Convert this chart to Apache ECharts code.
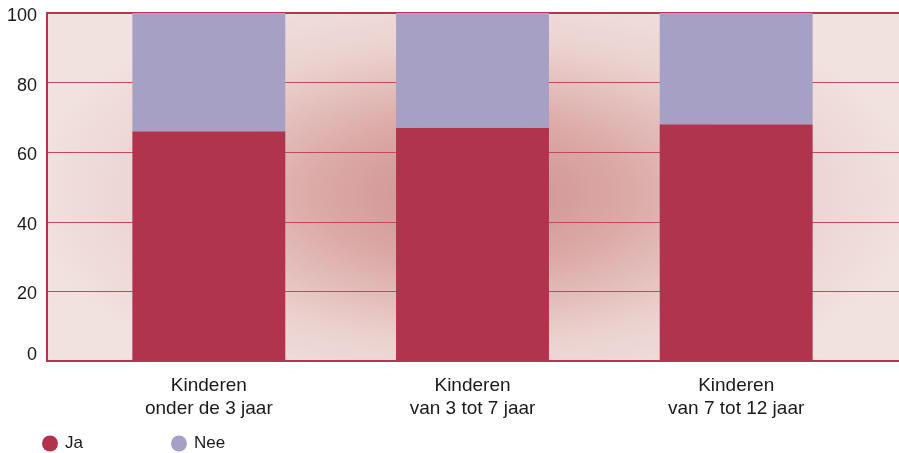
<!DOCTYPE html>
<html>
<head>
<meta charset="utf-8">
<script src="https://cdn.jsdelivr.net/npm/echarts@6/dist/echarts.min.js"></script>
<style>
    html, body { margin: 0; padding: 0; background: #fff; }
    #wrap { position: relative; width: 899px; height: 453px; }
    /* zachte roze achtergrond met donkere kern */
    #bg {
        position: absolute; left: 47px; top: 13px; width: 852px; height: 348px;
        background: radial-gradient(ellipse 52% 62% at 50% 52%, #cd8d8d 0%, #dba9a6 35%, #ebd2cf 70%, #f1e1df 100%);
    }
    #chart { position: absolute; left: 0; top: 0; width: 899px; height: 453px; }
</style>
</head>
<body>
<div id="wrap">
    <div id="bg"></div>
    <div id="chart"></div>
</div>
<script>
const categories = ['Kinderen\nonder de 3 jaar', 'Kinderen\nvan 3 tot 7 jaar', 'Kinderen\nvan 7 tot 12 jaar'];
const jaValues = [66, 67, 68];
const neeValues = [34, 33, 32];
const yTicks = [0, 20, 40, 60, 80, 100];

const RED = '#b0344d';
const LILAC = '#a5a0c4';
const LINE = '#b5344f';
const FONT = 'Liberation Sans';

const chart = echarts.init(document.getElementById('chart'));

chart.setOption({
    backgroundColor: 'transparent',
    animation: false,
    textStyle: { fontFamily: FONT },
    grid: [
        { left: 47, right: 0, top: 13, bottom: 92 },
        { left: 77, right: 31, top: 13, bottom: 92 }
    ],
    legend: {
        left: 37,
        top: 430,
        icon: 'circle',
        itemWidth: 16,
        itemHeight: 16,
        itemGap: 88,
        textStyle: { fontSize: 17, color: '#1a1a1a', fontFamily: FONT, padding: [4, 0, 0, 2] },
        data: ['Ja', 'Nee']
    },
    xAxis: [
        {
            gridIndex: 0, type: 'value', position: 'bottom',
            axisLine: { show: true, onZero: false, lineStyle: { color: LINE, width: 2 } },
            axisTick: { show: false }, axisLabel: { show: false }, splitLine: { show: false }
        },
        {
            gridIndex: 0, type: 'value', position: 'top',
            axisLine: { show: true, onZero: false, lineStyle: { color: LINE, width: 2 } },
            axisTick: { show: false }, axisLabel: { show: false }, splitLine: { show: false }
        },
        {
            gridIndex: 1, type: 'category', data: categories,
            axisLine: { show: false }, axisTick: { show: false },
            axisLabel: { fontSize: 19, color: '#1a1a1a', margin: 13, lineHeight: 23, fontFamily: FONT }
        }
    ],
    yAxis: [
        {
            gridIndex: 0, type: 'value', min: 0, max: 100, interval: 20,
            axisLine: { show: true, lineStyle: { color: LINE, width: 2 } },
            axisTick: { show: false },
            axisLabel: {
                fontSize: 18, color: '#1a1a1a', margin: 10, fontFamily: FONT,
                formatter: v => {
                    if (!yTicks.includes(v)) return '';
                    return v === 0 ? '{z|0}' : '{n|' + v + '}';
                },
                rich: {
                    n: { fontSize: 18, color: '#1a1a1a', padding: [6, 0, 0, 0] },
                    z: { fontSize: 18, color: '#1a1a1a', padding: [0, 0, 12, 0] }
                }
            },
            splitLine: { lineStyle: { color: '#c4485c', width: 1 } }
        },
        {
            gridIndex: 1, type: 'value', min: 0, max: 100,
            show: false
        }
    ],
    series: [
        {
            name: 'Ja', type: 'bar', stack: 'tot', xAxisIndex: 2, yAxisIndex: 1,
            barWidth: '58%', itemStyle: { color: RED }, data: jaValues
        },
        {
            name: 'Nee', type: 'bar', stack: 'tot', xAxisIndex: 2, yAxisIndex: 1,
            barWidth: '58%', itemStyle: { color: LILAC }, data: neeValues
        }
    ]
});
</script>
</body>
</html>
